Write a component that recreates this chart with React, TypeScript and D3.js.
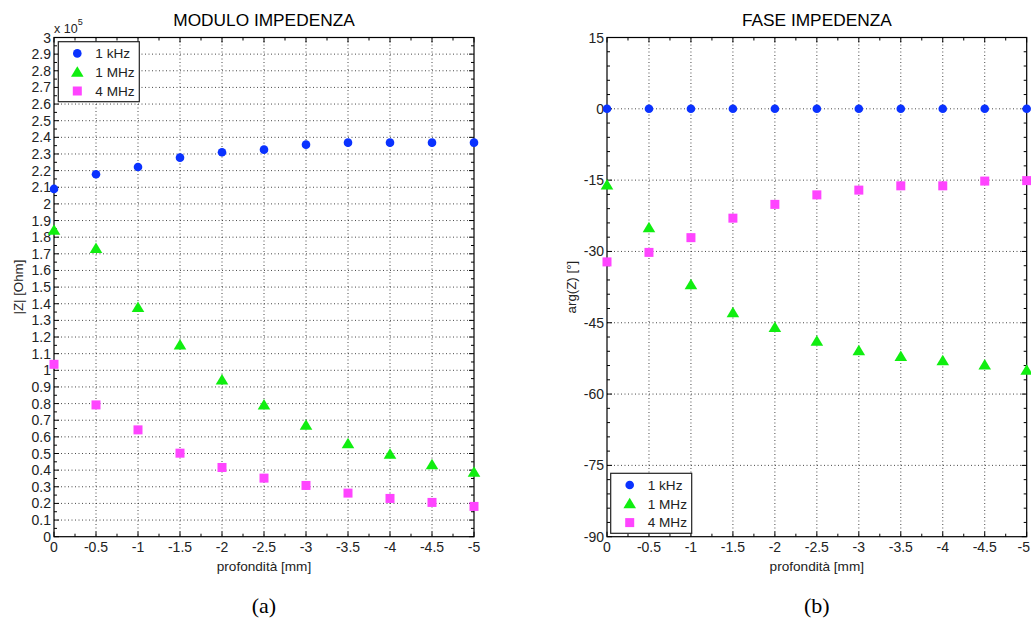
import React from "react";
import * as d3 from "d3";

// ---- data ----
const depth = [0, -0.5, -1, -1.5, -2, -2.5, -3, -3.5, -4, -4.5, -5];
const seriesNames = ["1 kHz", "1 MHz", "4 MHz"];
const seriesColors = ["#0a32ff", "#10ee10", "#ff44ff"];
const seriesShapes = ["circle", "triangle", "square"];

const modulo1kHz = [209000, 217800, 222200, 227800, 231000, 232600, 235600, 236800, 236800, 236800, 236800];
const modulo1MHz = [184200, 173200, 137800, 115200, 94200, 79200, 67000, 55800, 49600, 43200, 38800];
const modulo4MHz = [103600, 79200, 64200, 50200, 41600, 35200, 30800, 26200, 23000, 20600, 18200];

const fase1kHz = [0, 0, 0, 0, 0, 0, 0, 0, 0, 0, 0];
const fase1MHz = [-16.0, -25.0, -37.0, -42.9, -46.0, -48.9, -50.9, -52.1, -53.0, -53.9, -55.0];
const fase4MHz = [-32.2, -30.2, -27.1, -23.0, -20.1, -18.1, -17.1, -16.2, -16.2, -15.2, -15.1];

const xTickValues = [0, -0.5, -1, -1.5, -2, -2.5, -3, -3.5, -4, -4.5, -5];
const xTickLabels = ["0", "-0.5", "-1", "-1.5", "-2", "-2.5", "-3", "-3.5", "-4", "-4.5", "-5"];
const moduloTickValues = d3.range(0, 31).map((i) => i * 10000);
const moduloTickLabels = d3.range(0, 31).map((i) => String(+(i / 10).toFixed(1)));
const faseTickValues = [15, 0, -15, -30, -45, -60, -75, -90];
const faseTickLabels = ["15", "0", "-15", "-30", "-45", "-60", "-75", "-90"];

const FONT = "'Liberation Sans', Arial, Helvetica, sans-serif";

function Marker({ shape, x, y, color }: { shape: string; x: number; y: number; color: string }) {
  if (shape === "circle") return <circle cx={x} cy={y} r={4.3} fill={color} />;
  if (shape === "triangle") {
    const s = 6;
    return <path d={`M${x},${y - s} L${x + s * 1.05},${y + s * 0.75} L${x - s * 1.05},${y + s * 0.75} Z`} fill={color} />;
  }
  return <rect x={x - 4.5} y={y - 4.5} width={9} height={9} fill={color} />;
}

type PanelProps = {
  left: number;
  right: number;
  top: number;
  bottom: number;
  yDomain: [number, number];
  yTicks: number[];
  yTickLabels: string[];
  yMinorStep: number;
  series: number[][];
  title: string;
  yLabel: string;
  yLabelX: number;
  legendBox: [number, number];
  exponent?: boolean;
  caption: string;
  clampLastX?: number;
};

function Panel(p: PanelProps) {
  const x = d3.scaleLinear().domain([0, -5]).range([p.left, p.right]);
  const y = d3.scaleLinear().domain(p.yDomain).range([p.bottom, p.top]);
  const cx = (p.left + p.right) / 2;
  const cy = (p.top + p.bottom) / 2;
  const xMinor = d3.range(0, 21).map((i) => -i * 0.25);
  const nMinorY = Math.round((p.yDomain[1] - p.yDomain[0]) / p.yMinorStep);
  const yMinor = d3.range(0, nMinorY + 1).map((i) => p.yDomain[0] + i * p.yMinorStep);
  const grid = "#333";
  const [lx, ly] = p.legendBox;
  return (
    <g>
      <text x={cx} y={26} textAnchor="middle" fontFamily={FONT} fontSize={17.3} fill="#000">
        {p.title}
      </text>
      {/* grid */}
      {xTickValues.slice(1, -1).map((v) => (
        <line key={"gx" + v} x1={x(v)} x2={x(v)} y1={p.top} y2={p.bottom} stroke={grid} strokeWidth={0.9} strokeDasharray="1,2.5" />
      ))}
      {p.yTicks
        .filter((v) => v !== p.yDomain[0] && v !== p.yDomain[1])
        .map((v) => (
          <line key={"gy" + v} x1={p.left} x2={p.right} y1={y(v)} y2={y(v)} stroke={grid} strokeWidth={0.9} strokeDasharray="1,2.5" />
        ))}
      {/* ticks */}
      {xMinor.map((v) => {
        const major = Math.abs(v * 2 - Math.round(v * 2)) < 1e-6;
        const L = major ? 5 : 3;
        return (
          <g key={"tx" + v}>
            <line x1={x(v)} x2={x(v)} y1={p.bottom} y2={p.bottom - L} stroke="#000" strokeWidth={1} />
            <line x1={x(v)} x2={x(v)} y1={p.top} y2={p.top + L} stroke="#000" strokeWidth={1} />
          </g>
        );
      })}
      {yMinor.map((v) => {
        const major = p.yTicks.some((t) => Math.abs(t - v) < 1e-6);
        const L = major ? 5 : 3;
        return (
          <g key={"ty" + v}>
            <line x1={p.left} x2={p.left + L} y1={y(v)} y2={y(v)} stroke="#000" strokeWidth={1} />
            <line x1={p.right} x2={p.right - L} y1={y(v)} y2={y(v)} stroke="#000" strokeWidth={1} />
          </g>
        );
      })}
      {/* box */}
      <rect x={p.left} y={p.top} width={p.right - p.left} height={p.bottom - p.top} fill="none" stroke="#000" strokeWidth={1.2} />
      {/* tick labels */}
      {xTickValues.map((v, i) => {
        const last = i === xTickValues.length - 1 && p.clampLastX !== undefined;
        return (
          <text
            key={"lx" + v}
            x={last ? (p.clampLastX as number) : x(v)}
            y={p.bottom + 15}
            textAnchor={last ? "end" : "middle"}
            fontFamily={FONT}
            fontSize={14}
            fill="#222"
          >
            {xTickLabels[i]}
          </text>
        );
      })}
      {p.yTicks.map((v, i) => (
        <text key={"ly" + v} x={p.left - 3} y={y(v) + 5} textAnchor="end" fontFamily={FONT} fontSize={14} fill="#222">
          {p.yTickLabels[i]}
        </text>
      ))}
      {p.exponent && (
        <text x={p.left} y={32.5} fontFamily={FONT} fontSize={12.5} fill="#222">
          x 10
          <tspan dy={-8} fontSize={9}>5</tspan>
        </text>
      )}
      <text x={cx} y={571} textAnchor="middle" fontFamily={FONT} fontSize={13.6} fill="#222">
        profondità [mm]
      </text>
      <text transform={`translate(${p.yLabelX},${cy}) rotate(-90)`} textAnchor="middle" fontFamily={FONT} fontSize={13.3} fill="#222">
        {p.yLabel}
      </text>
      {/* data */}
      {p.series.map((vals, si) =>
        vals.map((v, i) => (
          <Marker key={"m" + si + "-" + i} shape={seriesShapes[si]} x={x(depth[i])} y={y(v)} color={seriesColors[si]} />
        ))
      )}
      {/* legend */}
      <rect x={lx} y={ly} width={81} height={60} fill="#fff" stroke="#222" strokeWidth={1.2} />
      {seriesNames.map((n, i) => (
        <g key={"lg" + n}>
          <Marker shape={seriesShapes[i]} x={lx + 19} y={ly + 11.7 + i * 18.8} color={seriesColors[i]} />
          <text x={lx + 37} y={ly + 16.5 + i * 18.8} fontFamily={FONT} fontSize={13.6} fill="#222">
            {n}
          </text>
        </g>
      ))}
      <text x={cx} y={613} textAnchor="middle" fontFamily="'Liberation Serif', 'DejaVu Serif', serif" fontSize={22} fill="#000">
        {p.caption}
      </text>
    </g>
  );
}

export default function App() {
  return (
    <div style={{ position: "absolute", left: 0, top: 0 }}>
      <svg width={1031} height={623} style={{ display: "block", background: "#fff" }}>
        <Panel
          left={54}
          right={474}
          top={37.5}
          bottom={536.7}
          yDomain={[0, 300000]}
          yTicks={moduloTickValues}
          yTickLabels={moduloTickLabels}
          yMinorStep={5000}
          series={[modulo1kHz, modulo1MHz, modulo4MHz]}
          title="MODULO IMPEDENZA"
          yLabel="|Z| [Ohm]"
          yLabelX={23}
          legendBox={[58.3, 41.7]}
          exponent
          caption="(a)"
        />
        <Panel
          left={607}
          right={1026.7}
          top={37.5}
          bottom={536.7}
          yDomain={[-90, 15]}
          yTicks={faseTickValues}
          yTickLabels={faseTickLabels}
          yMinorStep={3}
          series={[fase1kHz, fase1MHz, fase4MHz]}
          title="FASE IMPEDENZA"
          yLabel="arg(Z) [°]"
          yLabelX={576}
          legendBox={[610.7, 473.3]}
          caption="(b)"
          clampLastX={1030}
        />
      </svg>
    </div>
  );
}
